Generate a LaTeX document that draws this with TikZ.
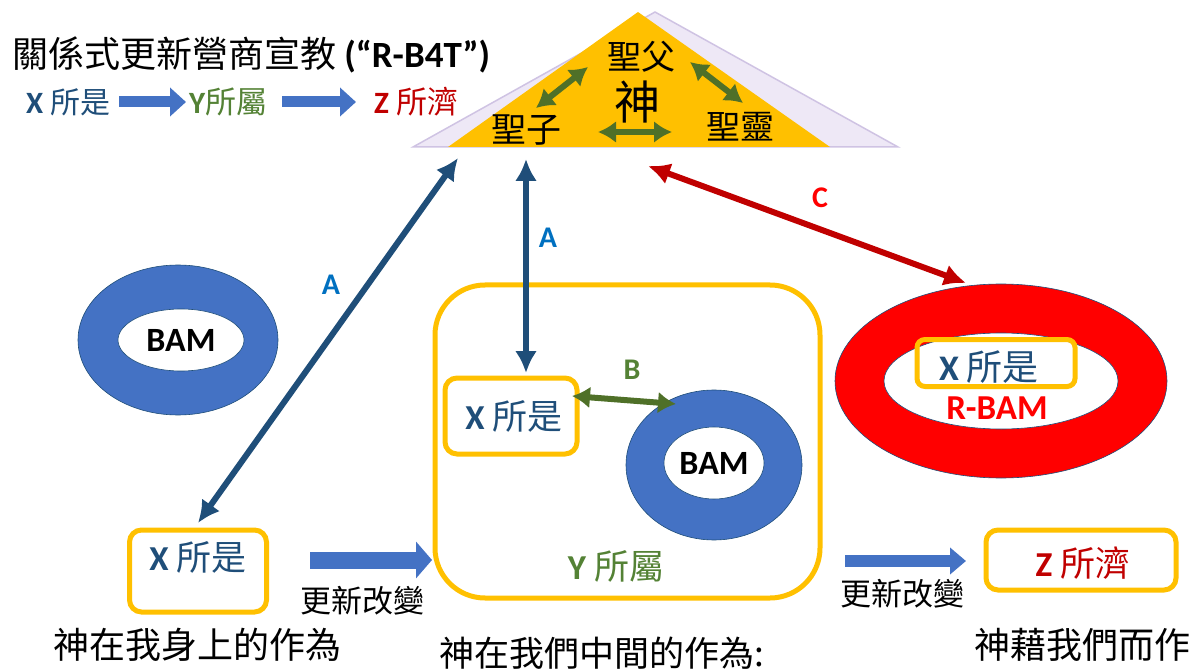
\documentclass[tikz,border=0pt]{standalone}
\usepackage{fontspec}
\usetikzlibrary{arrows.meta,shapes.geometric}
\newfontfamily\cjkbase{Noto Sans CJK TC}
\newcommand{\cjk}{\cjkbase\mdseries}
\newfontfamily\lat{Carlito}
\definecolor{gold}{HTML}{FFC000}
\definecolor{dblue}{HTML}{1F4E79}
\definecolor{txtblue}{HTML}{1F4E79}
\definecolor{lblue}{HTML}{0070C0}
\definecolor{ringblue}{HTML}{4472C4}
\definecolor{txtgreen}{HTML}{548235}
\definecolor{agreen}{HTML}{4F7028}
\definecolor{txtred}{HTML}{C00000}
\definecolor{redarrow}{HTML}{C00000}
\definecolor{lav}{HTML}{EEE8F6}
\definecolor{lavline}{HTML}{CFC3E3}
\newcommand{\fs}[1]{\fontsize{#1}{#1}\selectfont}
\tikzset{
  ybox/.style={draw=gold, line width=5pt, rounded corners=12pt, inner sep=0pt},
  cjktxt/.style={font=\cjk\fs{#1}, inner sep=0pt, anchor=center},
  lbl/.style={font=\lat\bfseries\fs{30}, inner sep=0pt},
  dblarrow/.style={draw=#1, line width=6pt, {Latex[length=22pt,width=22pt]}-{Latex[length=22pt,width=22pt]}},
  grarrow/.style={draw=agreen, line width=6pt, {Latex[length=18pt,width=22pt]}-{Latex[length=18pt,width=22pt]}},
  blockarrow/.style n args={2}{draw=ringblue, line width=#1, -{Triangle[length=16pt,width=#2]}},
  ring/.style={ellipse, draw=dblue, line width=0.6pt, inner sep=0pt},
}
\begin{document}
\begin{tikzpicture}[x=1pt,y=-1pt]
\useasboundingbox (0,0) rectangle (1192,671);
% title
\node[anchor=west, inner sep=0pt] (title) at (12,55) {\cjk\fs{36}關係式更新營商宣教 \lat\bfseries\fs{37}(“R-B4T”)};
% second line
\node[anchor=west, inner sep=0pt, text=txtblue] (lx) at (26,102) {\lat\bfseries\fs{31}X \cjk\fs{30}所是};
\node[anchor=west, inner sep=0pt, text=txtgreen] (ly) at (189,102) {\lat\bfseries\fs{31}Y\cjk\fs{31}所屬};
\node[anchor=west, inner sep=0pt, text=txtred] (lz) at (374,102) {\lat\bfseries\fs{31}Z \cjk\fs{31}所濟};
\coordinate (a1s) at (119,102); \coordinate (a1e) at (186,102);
\coordinate (a2s) at (282,102); \coordinate (a2e) at (356,102);
\draw[blockarrow={11pt}{28pt}] (a1s) -- (a1e);
\draw[blockarrow={11pt}{28pt}] (a2s) -- (a2e);
% triangle
\fill[lav, draw=lavline, line width=1.5pt] (655,12) -- (413,147) -- (898,147) -- cycle;
\fill[gold] (638,12) -- (448,147) -- (830,147) -- cycle;
\node[cjktxt=34] (fa) at (641,57) {聖父};
\node[cjktxt=46] (god) at (637,102) {神};
\node[cjktxt=35] (son) at (526,130) {聖子};
\node[cjktxt=34] (sp) at (740,127) {聖靈};
\coordinate (g1a) at (536,108); \coordinate (g1b) at (588,67);
\coordinate (g2a) at (690,62); \coordinate (g2b) at (743,103);
\coordinate (g3a) at (598,132); \coordinate (g3b) at (672,132);
\draw[grarrow] (g1a) -- (g1b);
\draw[grarrow] (g2a) -- (g2b);
\draw[grarrow] (g3a) -- (g3b);
% left BAM ring
\node[ring, fill=ringblue, minimum width=200pt, minimum height=150pt] (bam1o) at (178,340) {};
\node[ring, fill=white, minimum width=126pt, minimum height=62pt, font=\lat\bfseries\fs{34}] (bam1) at (181,340) {BAM};
% big Y box
\node[ybox, rounded corners=50pt, minimum width=385pt, minimum height=313pt] (ybig) at (627.5,441.5) {};
\node[ybox, minimum width=132pt, minimum height=76pt] (xmid) at (511,416) {};
\node[inner sep=0pt, text=txtblue] (xmidt) at (514,416) {\lat\bfseries\fs{35}X \cjk\fs{35}所是};
\node[ring, fill=ringblue, minimum width=176pt, minimum height=150pt] (bam2o) at (714,465) {};
\node[ring, fill=white, minimum width=100pt, minimum height=72pt, font=\lat\bfseries\fs{34}] (bam2) at (714,463) {BAM};
\node[inner sep=0pt, text=txtgreen] (yt) at (616,566) {\lat\bfseries\fs{35}Y \cjk\fs{35}所屬};
\node[lbl, text=txtgreen] (blab) at (632,370) {B};
\coordinate (b1) at (572,396); \coordinate (b2) at (676,404);
\draw[grarrow] (b1) -- (b2);
% right R-BAM ring
\node[ring, fill=red, minimum width=332pt, minimum height=194pt] (rbo) at (1001,381) {};
\node[ring, fill=white, minimum width=234pt, minimum height=96pt] (rbi) at (1001,381) {};
\node[ybox, rounded corners=8pt, minimum width=158pt, minimum height=47pt] (xr) at (996,363) {};
\node[inner sep=0pt, text=txtblue] (xrt) at (989,367) {\lat\bfseries\fs{36}X \cjk\fs{36}所是};
\node[inner sep=0pt, text=red, font=\lat\bfseries\fs{35}] (rbam) at (997,408) {R-BAM};
% bottom row
\node[ybox, minimum width=137pt, minimum height=82pt] (xbot) at (198,571) {};
\node[inner sep=0pt, text=txtblue] (xbott) at (198,557) {\lat\bfseries\fs{35}X \cjk\fs{35}所是};
\node[ybox, minimum width=190pt, minimum height=60pt] (zbox) at (1081,560) {};
\node[inner sep=0pt, text=txtred] (zt) at (1083,563) {\lat\bfseries\fs{35}Z \cjk\fs{35}所濟};
\coordinate (ba1) at (310,560); \coordinate (ba2) at (432,560);
\coordinate (ba3) at (845,561); \coordinate (ba4) at (966,561);
\draw[blockarrow={17pt}{36pt}] (ba1) -- (ba2);
\draw[blockarrow={12pt}{26pt}] (ba3) -- (ba4);
\node[cjktxt=31] (ch1) at (362,601) {更新改變};
\node[cjktxt=31] (ch2) at (902,594) {更新改變};
\node[cjktxt=36] (w1) at (197,645) {神在我身上的作為};
\node[cjktxt=35] (w2) at (602,653) {神在我們中間的作為:};
\node[cjktxt=36] (w3) at (1082,645) {神藉我們而作};
% A, A, C connectors
\coordinate (tA1) at (458,158); \coordinate (xA1) at (198,523);
\coordinate (tA2) at (526,159); \coordinate (xA2) at (526,373);
\coordinate (tC) at (648,166); \coordinate (rC) at (966,283);
\draw[dblarrow=dblue] (tA1) -- (xA1);
\draw[dblarrow=dblue] (tA2) -- (xA2);
\draw[dblarrow=redarrow] (tC) -- (rC);
\node[lbl, text=lblue] (la1) at (331,285) {A};
\node[lbl, text=lblue] (la2) at (548,238) {A};
\node[lbl, text=red] (lc) at (820,198) {C};
\end{tikzpicture}
\end{document}
